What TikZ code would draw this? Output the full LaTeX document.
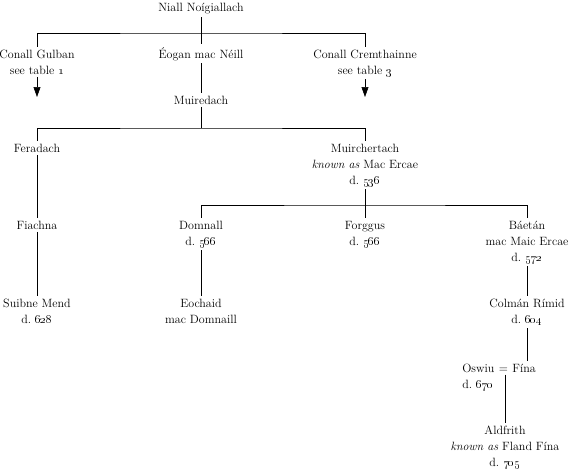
\documentclass[tikz,border=0pt]{standalone}
\usetikzlibrary{arrows.meta,positioning}
\begin{document}
\begin{tikzpicture}[
    x=1pt, y=-1pt,
    person/.style={align=center, anchor=base, inner sep=2.5pt, font=\fontsize{12}{16}\selectfont},
    line/.style={line width=0.6pt},
    seearr/.style={line width=0.6pt, -{Triangle[width=7pt,length=10pt]}},
  ]
    \useasboundingbox (0,0) rectangle (570,471);
    % (y of a node = baseline of its last line)

    % --- Niall and his sons ---
    \node[person] (niall)  at (201, 12) {Niall Noígiallach};
    \node[person] (gulban) at (37, 74)  {Conall Gulban\\see table \oldstylenums{1}};
    \node[person] (eogan)  at (201, 58) {Éogan mac Néill};
    \node[person] (cremth) at (365, 74) {Conall Cremthainne\\see table \oldstylenums{3}};
    \coordinate (bar1) at (201, 33);
    \coordinate (gulbanEnd) at (37, 97);
    \coordinate (cremthEnd) at (365, 97);
    \draw[line] (niall.south) -- (eogan.north);
    \draw[line] (gulban.north) |- (bar1) -| (cremth.north);
    \draw[seearr] (gulban.south) -- (gulbanEnd);
    \draw[seearr] (cremth.south) -- (cremthEnd);

    % --- Muiredach ---
    \node[person] (muiredach) at (201, 104) {Muiredach};
    \draw[line] (eogan.south) -- (muiredach.north);
    \node[person] (feradach) at (37, 152)  {Feradach};
    \node[person] (muirch)   at (365, 184) {Muirchertach\\\textit{known as} Mac Ercae\\d.~\oldstylenums{536}};
    \coordinate (bar2) at (201, 128);
    \draw[line] (muiredach.south) -- (bar2);
    \draw[line] (feradach.north) |- (bar2) -| (muirch.north);

    % --- Feradach line ---
    \node[person] (fiachna) at (37, 229) {Fiachna};
    \node[person] (suibne)  at (37, 323) {Suibne Mend\\d.~\oldstylenums{628}};
    \draw[line] (feradach.south) -- (fiachna.north);
    \draw[line] (fiachna.south) -- (suibne.north);

    % --- Sons of Mac Ercae ---
    \node[person] (domnall) at (201, 245) {Domnall\\d.~\oldstylenums{566}};
    \node[person] (forggus) at (365, 245) {Forggus\\d.~\oldstylenums{566}};
    \node[person] (baetan)  at (527, 261) {Báetán\\mac Maic Ercae\\d.~\oldstylenums{572}};
    \coordinate (bar3) at (365, 205);
    \draw[line] (muirch.south) -- (forggus.north);
    \draw[line] (domnall.north) |- (bar3) -| (baetan.north);
    \node[person] (eochaid) at (201, 323) {Eochaid\\mac Domnaill};
    \draw[line] (domnall.south) -- (eochaid.north);
    \node[person] (colman)  at (527, 323) {Colmán Rímid\\d.~\oldstylenums{604}};
    \draw[line] (baetan.south) -- (colman.north);

    % --- Oswiu = Fína ---
    \node[person] (fina) at (524, 372) {Fína};
    \node[person, inner xsep=1.5pt, anchor=base east] (eq) at (fina.base west) {=};
    \node[person, inner xsep=2.5pt, anchor=base east] (oswiu) at (eq.base west) {Oswiu};
    \node[person, inner xsep=2.5pt, anchor=base west] (oswiud) at ([yshift=-16pt]oswiu.base west) {d.~\oldstylenums{670}};
    \draw[line] (colman.south) -- (colman.south |- fina.north);
    \node[person] (aldfrith) at (505, 466) {Aldfrith\\\textit{known as} Fland Fína\\d.~\oldstylenums{705}};
    \draw[line] (aldfrith.north |- eq.south) -- (aldfrith.north);
\end{tikzpicture}
\end{document}
